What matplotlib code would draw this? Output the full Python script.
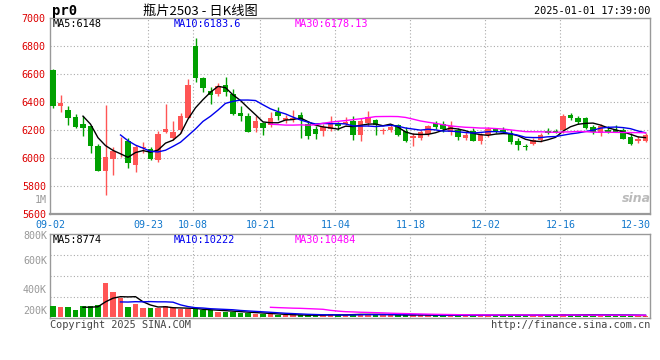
import numpy as np
import pandas as pd
import matplotlib
matplotlib.use('Agg')
import matplotlib.pyplot as plt

# 日K数据 (2024-09-02 .. 2024-12-31)
opens = [6629, 6374, 6343, 6293, 6245, 6229, 6086, 5910, 5995, 6090,
         6124, 5952, 6074, 6064, 5988, 6188, 6145, 6200, 6288, 6800,
         6569, 6479, 6457, 6521, 6457, 6321, 6300, 6217, 6248, 6236,
         6331, 6271, 6281, 6307, 6243, 6207, 6195, 6205, 6248, 6243,
         6267, 6162, 6248, 6274, 6193, 6202, 6238, 6195, 6140, 6145,
         6169, 6250, 6245, 6183, 6198, 6140, 6195, 6124, 6162, 6207,
         6202, 6179, 6124, 6086, 6100, 6126, 6195, 6195, 6198, 6310,
         6288, 6288, 6219, 6179, 6202, 6202, 6198, 6150, 6119, 6124]
highs = [6635, 6450, 6371, 6314, 6300, 6232, 6100, 6379, 6076, 6152,
         6140, 6093, 6114, 6076, 6193, 6386, 6267, 6319, 6564, 6855,
         6581, 6510, 6533, 6576, 6490, 6374, 6324, 6300, 6255, 6331,
         6367, 6307, 6343, 6331, 6260, 6231, 6240, 6300, 6257, 6295,
         6298, 6286, 6333, 6280, 6214, 6238, 6245, 6221, 6179, 6202,
         6238, 6267, 6262, 6267, 6214, 6190, 6214, 6179, 6221, 6212,
         6221, 6202, 6143, 6100, 6143, 6179, 6214, 6210, 6317, 6321,
         6298, 6290, 6238, 6243, 6226, 6238, 6214, 6179, 6155, 6179]
lows = [6360, 6331, 6236, 6214, 6160, 6038, 5905, 5738, 5881, 6010,
        5931, 5902, 6033, 5986, 5974, 6176, 6129, 6176, 6283, 6545,
        6474, 6383, 6443, 6443, 6310, 6264, 6185, 6188, 6167, 6224,
        6271, 6248, 6260, 6145, 6138, 6138, 6157, 6195, 6200, 6236,
        6131, 6124, 6226, 6162, 6174, 6183, 6158, 6115, 6088, 6131,
        6160, 6207, 6188, 6167, 6131, 6131, 6120, 6102, 6150, 6179,
        6179, 6102, 6060, 6055, 6095, 6112, 6172, 6175, 6179, 6269,
        6243, 6210, 6171, 6155, 6179, 6183, 6136, 6095, 6107, 6112]
closes = [6374, 6395, 6288, 6221, 6217, 6088, 5910, 6007, 6050, 6095,
          5962, 6081, 6076, 5993, 6171, 6210, 6186, 6302, 6521, 6574,
          6502, 6448, 6514, 6474, 6317, 6300, 6188, 6267, 6217, 6286,
          6300, 6286, 6285, 6271, 6157, 6174, 6224, 6248, 6229, 6260,
          6162, 6267, 6293, 6233, 6196, 6221, 6162, 6119, 6155, 6183,
          6226, 6219, 6209, 6231, 6150, 6167, 6124, 6162, 6207, 6193,
          6186, 6114, 6095, 6081, 6131, 6167, 6179, 6179, 6302, 6288,
          6257, 6212, 6188, 6231, 6188, 6188, 6138, 6102, 6138, 6162]
volumes = [67000, 60000, 60000, 40000, 67000, 67000, 74000, 206000, 150000, 113000,
           60000, 81000, 53000, 53000, 53000, 67000, 53000, 46000, 46000, 46000,
           40000, 40000, 32000, 32000, 32000, 25000, 25000, 19000, 19000, 19000,
           11000, 11000, 11000, 11000, 11000, 11000, 11000, 19000, 11000, 11000,
           19000, 19000, 19000, 11000, 11000, 14000, 12000, 13000, 11000, 12000,
           11000, 10000, 10000, 11000, 10000, 9000, 11000, 10000, 10500, 10000,
           11000, 12000, 10000, 9000, 10000, 11000, 9000, 10000, 16000, 12000,
           12000, 13000, 11000, 10000, 12000, 9000, 10000, 9000, 8000, 8000]

holidays = ['2024-09-16', '2024-09-17', '2024-10-01', '2024-10-02',
            '2024-10-03', '2024-10-04', '2024-10-07']
tick_dates = ['09-02', '09-23', '10-08', '10-21', '11-04', '11-18',
              '12-02', '12-16', '12-30']
price_ticks = [5600, 5800, 6000, 6200, 6400, 6600, 6800, 7000]

days = pd.bdate_range('2024-09-02', '2024-12-31')
days = days[~days.isin(pd.to_datetime(holidays))]
labels = list(days.strftime('%m-%d'))

RED = '#ff5555'
GREEN = '#00a000'
MONO = 'DejaVu Sans Mono'
W, H = 660, 360

df = pd.DataFrame({'o': opens, 'h': highs, 'l': lows, 'c': closes, 'v': volumes})
x = np.arange(len(df))
up = df.c >= df.o
colors = np.where(up, RED, GREEN)

fig = plt.figure(figsize=(6.6, 3.6), dpi=100)

def px_axes(l, t, r, b):
    return fig.add_axes([l / W, 1 - b / H, (r - l) / W, (b - t) / H])

ax = px_axes(50, 18, 650, 214)
axv = px_axes(50, 234, 650, 318)

tick_pos = [labels.index(d) - 0.35 for d in tick_dates]
grid_kw = dict(color='#aaaaaa', lw=0.8, ls=(0, (1, 2)), zorder=0)

# 价格K线
ax.vlines(x, df.l, df.h, colors=colors, lw=1, zorder=2)
body = np.maximum((df.c - df.o).abs(), 5)
ax.bar(x, body, bottom=np.minimum(df.o, df.c), width=0.76, color=colors,
       linewidth=0, zorder=3)
ax.plot(x, df.c.rolling(5).mean(), color='black', lw=1, zorder=4)
ax.plot(x, df.c.rolling(10).mean(), color='#0000ee', lw=1, zorder=4)
ax.plot(x, df.c.rolling(30).mean(), color='#ff00ff', lw=1, zorder=4)

ax.set_xlim(-0.4, len(df) - 0.4)
ax.set_ylim(5600, 7000)
ax.set_yticks(price_ticks)
ax.set_yticklabels([str(p) for p in price_ticks], family=MONO, fontsize=7.2,
                   color='#dd0000')
for p in price_ticks[1:-1]:
    ax.axhline(p, **grid_kw)
ax.set_xticks(tick_pos)
ax.set_xticklabels(tick_dates, family=MONO, fontsize=7.2, color='#1177cc')
ax.tick_params(axis='y', length=0, pad=3)
ax.tick_params(axis='x', length=0, pad=4)

# 成交量
axv.bar(x, df.v, width=0.76, color=colors, linewidth=0, zorder=3)
axv.plot(x, df.v.rolling(5).mean(), color='black', lw=1, zorder=4)
axv.plot(x, df.v.rolling(10).mean(), color='#0000ee', lw=1, zorder=4)
axv.plot(x, df.v.rolling(30).mean(), color='#ff00ff', lw=1, zorder=4)
axv.set_xlim(-0.4, len(df) - 0.4)
axv.set_ylim(-6000, 498000)
for v in [120000, 246000, 372000]:
    axv.axhline(v, **grid_kw)
axv.set_xticks([])
axv.set_yticks([])

for a in (ax, axv):
    for t in tick_pos[1:-1]:
        a.axvline(t, **grid_kw)
    for s in a.spines.values():
        s.set_color('#999999')
        s.set_linewidth(1)
ax.spines['bottom'].set_linewidth(1.6)

vol_labels = [('1M', 200), ('800K', 236), ('600K', 261), ('400K', 290), ('200K', 311)]
for t, yy in vol_labels:
    fig.text(47 / W, 1 - yy / H, t, ha='right', va='center', family=MONO,
             fontsize=7.2, color='#999999')

# 文字
fig.text(52 / W, 1 - 11 / H, 'pr0', ha='left', va='center', family=MONO,
         fontsize=10, fontweight='bold')
fig.text(200 / W, 1 - 11 / H, '瓶片2503 - 日K线图', ha='center', va='center',
         family=['Noto Sans CJK SC', 'DejaVu Sans'], fontsize=9.5)
fig.text(650 / W, 1 - 11 / H, '2025-01-01 17:39:00', ha='right', va='center',
         family=MONO, fontsize=7.4)

def legend(yy, vals):
    for (t, c), xx in zip(vals, [53, 174, 295]):
        fig.text(xx / W, 1 - yy / H, t, ha='left', va='center', family=MONO,
                 fontsize=7.4, color=c)

legend(24, [('MA5:6148', 'black'), ('MA10:6183.6', '#0000ee'),
            ('MA30:6178.13', '#ff00ff')])
legend(240, [('MA5:8774', 'black'), ('MA10:10222', '#0000ee'),
             ('MA30:10484', '#ff00ff')])

fig.text(636 / W, 1 - 198 / H, 'sina', ha='center', va='center',
         fontsize=9, fontweight='bold', style='italic', color='#bbbbbb')
fig.text(50 / W, 1 - 325 / H, 'Copyright 2025 SINA.COM', ha='left', va='center',
         family=MONO, fontsize=7.4, color='#444444')
fig.text(650 / W, 1 - 325 / H, 'http://finance.sina.com.cn', ha='right',
         va='center', family=MONO, fontsize=7.4, color='#444444')

fig.savefig('out.png', dpi=100)
